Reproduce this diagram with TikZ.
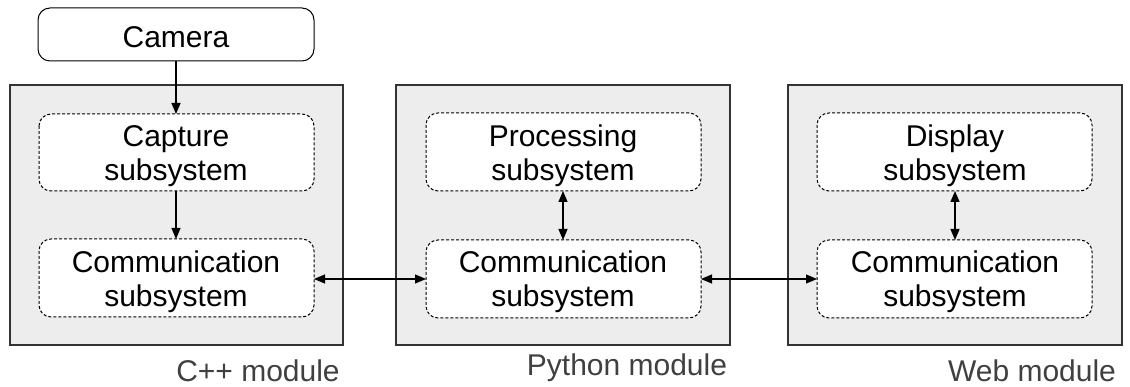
\documentclass[tikz,border=0pt]{standalone}
\usepackage{fontspec}
\setmainfont{Liberation Sans}
\usetikzlibrary{arrows.meta}
\begin{document}
\begin{tikzpicture}[x=1pt,y=-1pt,
  every node/.style={font=\fontsize{30}{34}\selectfont, align=center, inner sep=0pt},
  modbox/.style={draw=black!80, line width=1.3pt, fill=black!7},
  subbox/.style={draw=black, dash pattern=on 3pt off 2pt, line width=1pt, fill=white, rounded corners=12pt},
  cambox/.style={draw=black, line width=1pt, fill=white, rounded corners=12pt},
  modlabel/.style={text=black!75},
  conn/.style={line width=1.2pt, -{Triangle[length=11pt,width=9pt]}},
  dconn/.style={line width=1.2pt, {Triangle[length=11pt,width=9pt]}-{Triangle[length=11pt,width=9pt]}}
]
\useasboundingbox (0,0) rectangle (1130,387);
% modules
\draw[modbox] (10,85) rectangle (343,345);
\draw[modbox] (396,85) rectangle (730,345);
\draw[modbox] (788,85) rectangle (1122,345);
% camera
\draw[cambox] (38,8) rectangle (314,61);
\node (cam) at (176,37) {Camera};
\coordinate (camS) at (176,61);
% subsystems
\draw[subbox] (39,114) rectangle (314,191);
\node (cap) at (176,156) {Capture\\subsystem};
\draw[subbox] (39,239) rectangle (314,317);
\node (c1) at (176,282) {Communication\\subsystem};
\draw[subbox] (426,113) rectangle (701,191);
\node (proc) at (563,156) {Processing\\subsystem};
\draw[subbox] (426,240) rectangle (701,318);
\node (c2) at (563,282) {Communication\\subsystem};
\draw[subbox] (817,113) rectangle (1092,191);
\node (disp) at (955,156) {Display\\subsystem};
\draw[subbox] (817,240) rectangle (1092,318);
\node (c3) at (955,282) {Communication\\subsystem};
% anchors of boxes
\coordinate (capN) at (176,114);
\coordinate (capS) at (176,191);
\coordinate (c1N) at (176,239);
\coordinate (c1E) at (314,279);
\coordinate (c2W) at (426,279);
\coordinate (c2E) at (701,279);
\coordinate (c2N) at (563,240);
\coordinate (procS) at (563,191);
\coordinate (c3W) at (817,279);
\coordinate (c3N) at (955,240);
\coordinate (dispS) at (955,191);
% connectors
\draw[conn] (camS) -- (capN);
\draw[conn] (capS) -- (c1N);
\draw[dconn] (c1E) -- (c2W);
\draw[dconn] (procS) -- (c2N);
\draw[dconn] (c2E) -- (c3W);
\draw[dconn] (dispS) -- (c3N);
% labels
\node[modlabel] (l1) at (258,371) {C++ module};
\node[modlabel] (l2) at (627,368) {Python module};
\node[modlabel] (l3) at (1032,371) {Web module};
\end{tikzpicture}
\end{document}
